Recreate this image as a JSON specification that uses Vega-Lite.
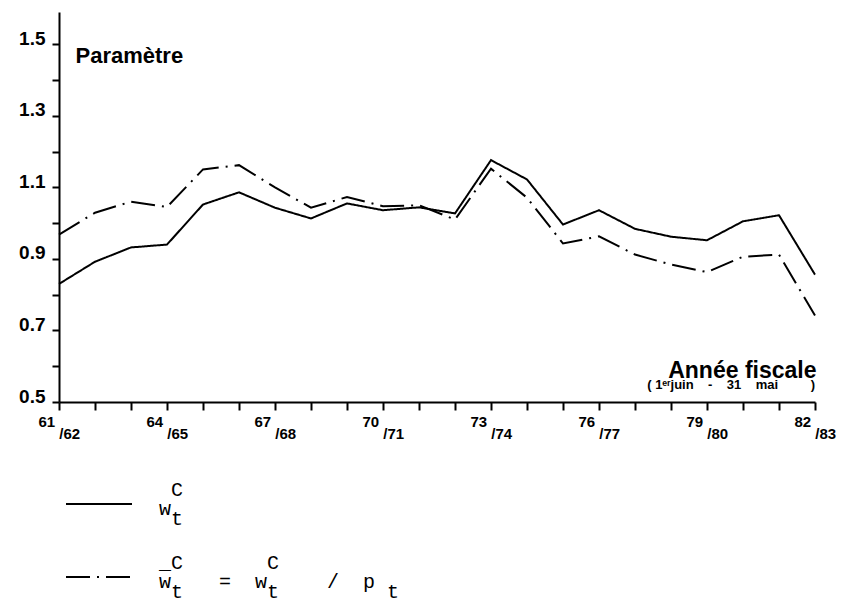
{
  "$schema": "https://vega.github.io/schema/vega-lite/v6.json",
  "width": 756,
  "height": 390,
  "autosize": {"type": "none"},
  "padding": {"left": 59, "top": 12, "right": 28, "bottom": 201},
  "background": "white",
  "config": {"view": {"stroke": null}, "font": "Liberation Sans", "style": {"guide-label": {"lineHeight": 9.5, "dy": -4}}},
  "layer": [
    {
      "data": {"values": [
        {"year": 61, "series": "nominal", "value": 0.830},
        {"year": 62, "series": "nominal", "value": 0.892},
        {"year": 63, "series": "nominal", "value": 0.932},
        {"year": 64, "series": "nominal", "value": 0.940},
        {"year": 65, "series": "nominal", "value": 1.052},
        {"year": 66, "series": "nominal", "value": 1.086},
        {"year": 67, "series": "nominal", "value": 1.043},
        {"year": 68, "series": "nominal", "value": 1.013},
        {"year": 69, "series": "nominal", "value": 1.055},
        {"year": 70, "series": "nominal", "value": 1.036},
        {"year": 71, "series": "nominal", "value": 1.044},
        {"year": 72, "series": "nominal", "value": 1.027},
        {"year": 73, "series": "nominal", "value": 1.176},
        {"year": 74, "series": "nominal", "value": 1.122},
        {"year": 75, "series": "nominal", "value": 0.996},
        {"year": 76, "series": "nominal", "value": 1.036},
        {"year": 77, "series": "nominal", "value": 0.984},
        {"year": 78, "series": "nominal", "value": 0.962},
        {"year": 79, "series": "nominal", "value": 0.952},
        {"year": 80, "series": "nominal", "value": 1.005},
        {"year": 81, "series": "nominal", "value": 1.022},
        {"year": 82, "series": "nominal", "value": 0.856},
        {"year": 61, "series": "reel", "value": 0.968},
        {"year": 62, "series": "reel", "value": 1.029},
        {"year": 63, "series": "reel", "value": 1.060},
        {"year": 64, "series": "reel", "value": 1.045},
        {"year": 65, "series": "reel", "value": 1.150},
        {"year": 66, "series": "reel", "value": 1.162},
        {"year": 67, "series": "reel", "value": 1.100},
        {"year": 68, "series": "reel", "value": 1.043},
        {"year": 69, "series": "reel", "value": 1.073},
        {"year": 70, "series": "reel", "value": 1.047},
        {"year": 71, "series": "reel", "value": 1.050},
        {"year": 72, "series": "reel", "value": 1.010},
        {"year": 73, "series": "reel", "value": 1.152},
        {"year": 74, "series": "reel", "value": 1.071},
        {"year": 75, "series": "reel", "value": 0.943},
        {"year": 76, "series": "reel", "value": 0.963},
        {"year": 77, "series": "reel", "value": 0.912},
        {"year": 78, "series": "reel", "value": 0.884},
        {"year": 79, "series": "reel", "value": 0.863},
        {"year": 80, "series": "reel", "value": 0.906},
        {"year": 81, "series": "reel", "value": 0.912},
        {"year": 82, "series": "reel", "value": 0.742}
      ]},
      "mark": {"type": "line", "color": "black", "strokeWidth": 2},
      "encoding": {
        "x": {
          "field": "year", "type": "quantitative",
          "scale": {"domain": [61, 82], "nice": false, "zero": false},
          "axis": {
            "values": [61,62,63,64,65,66,67,68,69,70,71,72,73,74,75,76,77,78,79,80,81,82],
            "tickCount": 40,
            "labelExpr": "(datum.value - 61) % 3 == 0 ? [format(datum.value, 'd'), '\u200b\u00a0\u00a0\u00a0\u00a0\u00a0/' + format(datum.value + 1, 'd')] : ''",
            "labelAlign": "left",
            "labelOffset": -21,
            "labelBaseline": "top",
            "labelLineHeight": 12,
            "labelPadding": 8,
            "labelFont": "Liberation Sans",
            "labelFontSize": 15,
            "labelFontWeight": "bold",
            "labelColor": "black",
            "labelOverlap": false,
            "labelFlush": false,
            "labelBound": false,
            "grid": false,
            "domainColor": "black",
            "domainWidth": 2,
            "tickColor": "black",
            "tickWidth": 2,
            "tickSize": 8,
            "title": "Année fiscale",
            "titleX": 757,
            "titleY": -25,
            "titleAlign": "right",
            "titleAnchor": "end",
            "titleBaseline": "alphabetic",
            "titleFont": "Liberation Sans",
            "titleFontSize": 23,
            "titleFontWeight": "bold",
            "titleColor": "black"
          }
        },
        "y": {
          "field": "value", "type": "quantitative",
          "scale": {"domain": [0.5, 1.59], "nice": false, "zero": false},
          "axis": {
            "values": [0.5,0.6,0.7,0.8,0.9,1.0,1.1,1.2,1.3,1.4,1.5],
            "tickCount": 40,
            "labelExpr": "round(datum.value * 10) % 2 == 1 ? format(datum.value, '.1f') : ''",
            "labelBaseline": "alphabetic",
            "labelOffset": 4,
            "labelPadding": 7,
            "labelFont": "Liberation Sans",
            "labelFontSize": 19,
            "labelFontWeight": "bold",
            "labelColor": "black",
            "labelOverlap": false,
            "labelFlush": false,
            "grid": false,
            "domainColor": "black",
            "domainWidth": 2,
            "tickColor": "black",
            "tickWidth": 2,
            "tickSize": 7,
            "title": "Paramètre",
            "titleAngle": 0,
            "titleX": 16,
            "titleY": 50,
            "titleAlign": "left",
            "titleBaseline": "alphabetic",
            "titleFont": "Liberation Sans",
            "titleFontSize": 22,
            "titleFontWeight": "bold",
            "titleColor": "black"
          }
        },
        "strokeDash": {
          "field": "series", "type": "nominal",
          "scale": {"domain": ["nominal", "reel"], "range": [[1, 0], [24, 7, 2, 7]]},
          "legend": {
            "orient": "none",
            "legendX": 6,
            "legendY": 458,
            "title": null,
            "direction": "vertical",
            "padding": 0,
            "symbolType": "stroke",
            "symbolSize": 4356,
            "symbolStrokeWidth": 2,
            "symbolStrokeColor": "black",
            "labelFont": "Liberation Mono",
            "labelFontSize": 20,
            "labelOffset": 26,
            "labelLimit": 600,
            "labelColor": "black",
            "labelBaseline": "bottom",
            "rowPadding": 14,
            "labelExpr": "datum.value == 'nominal' ? ['\u200b\u00a0C', '\u200b\u00a0', 'w', '\u200b\u00a0t'] : ['_C\u00a0\u00a0\u00a0\u00a0\u00a0\u00a0\u00a0C', '\u200b\u00a0', 'w\u00a0\u00a0\u00a0\u00a0=\u00a0\u00a0w\u00a0\u00a0\u00a0\u00a0\u00a0/\u00a0\u00a0p', '\u200b\u00a0t\u00a0\u00a0\u00a0\u00a0\u00a0\u00a0\u00a0t\u00a0\u00a0\u00a0\u00a0\u00a0\u00a0\u00a0\u00a0\u00a0t']"
          }
        }
      }
    },
    {
      "data": {"values": [{"note": "(\u00a01ᵉʳjuin\u00a0\u00a0\u00a0\u00a0-\u00a0\u00a0\u00a0\u00a031\u00a0\u00a0\u00a0\u00a0mai\u00a0\u00a0\u00a0\u00a0\u00a0\u00a0\u00a0\u00a0\u00a0)"}]},
      "mark": {"type": "text", "align": "right", "baseline": "alphabetic", "dy": -13, "font": "Liberation Sans", "fontSize": 13, "fontWeight": "bold", "color": "black"},
      "encoding": {
        "x": {"datum": 82},
        "y": {"datum": 0.5},
        "text": {"field": "note"}
      }
    }
  ]
}
